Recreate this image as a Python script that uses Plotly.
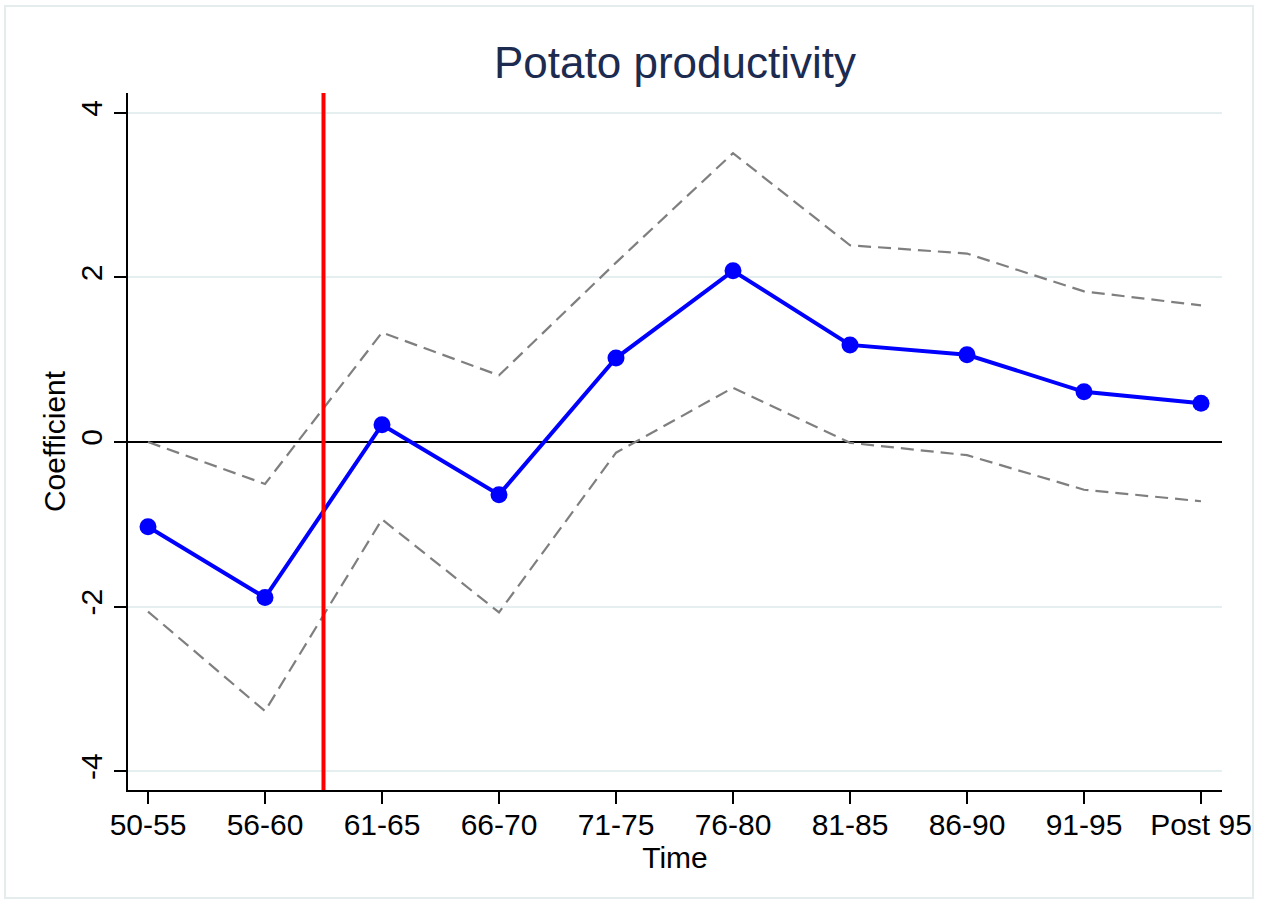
import plotly.graph_objects as go

# Event-study coefficients by period with 95% confidence bounds
periods = ["50-55", "56-60", "61-65", "66-70", "71-75",
           "76-80", "81-85", "86-90", "91-95", "Post 95"]
coef = [-1.03, -1.89, 0.21, -0.64, 1.02, 2.08, 1.18, 1.06, 0.61, 0.47]
ci_upper = [0.00, -0.51, 1.33, 0.81, 2.18, 3.51, 2.39, 2.29, 1.83, 1.66]
ci_lower = [-2.06, -3.27, -0.94, -2.07, -0.13, 0.66, -0.01, -0.16, -0.58, -0.72]
y_ticks = [-4, -2, 0, 2, 4]
treatment_at = 1.5  # between 56-60 and 61-65

x_pos = list(range(len(periods)))
FONT = "Liberation Sans, Arial, Helvetica, sans-serif"
GRID = "#e6eff0"

fig = go.Figure()

dash_style = dict(color="#7f7f7f", width=2.2, dash="13px,7px")
fig.add_trace(go.Scatter(x=x_pos, y=ci_upper, mode="lines", line=dash_style,
                         showlegend=False, hoverinfo="skip"))
fig.add_trace(go.Scatter(x=x_pos, y=ci_lower, mode="lines", line=dash_style,
                         showlegend=False, hoverinfo="skip"))
fig.add_trace(go.Scatter(x=x_pos, y=coef, mode="lines+markers",
                         line=dict(color="#0000ff", width=4),
                         marker=dict(color="#0000ff", size=17),
                         showlegend=False))

# Treatment marker line
fig.add_shape(type="line", xref="x", yref="y domain",
              x0=treatment_at, x1=treatment_at, y0=0, y1=1,
              line=dict(color="#ff0000", width=4), layer="above")

# Outer graph-region frame
fig.add_shape(type="rect", xref="paper", yref="paper",
              x0=-123 / 1094, x1=1125 / 1094,
              y0=(790 - 898) / 697, y1=(790 - 6) / 697,
              line=dict(color="#e4eced", width=2), fillcolor="rgba(0,0,0,0)",
              layer="below")

fig.update_layout(
    width=1275, height=911,
    margin=dict(l=128, r=53, t=93, b=121),
    paper_bgcolor="white", plot_bgcolor="white",
    font=dict(family=FONT, color="black", size=30),
    title=dict(text="Potato productivity", x=675 / 1275, xanchor="center",
               y=1 - 63 / 911, yanchor="middle",
               font=dict(family=FONT, size=44, color="#1c2b4f")),
    showlegend=False,
)

fig.update_xaxes(
    range=[-20 / 117, 1074 / 117],
    tickmode="array", tickvals=x_pos, ticktext=periods,
    showgrid=False, zeroline=False,
    showline=True, linecolor="black", linewidth=1.5,
    ticks="outside", ticklen=12, tickwidth=1.5, tickcolor="black",
    ticklabelstandoff=-5,
    tickfont=dict(size=30, color="black"),
    title=dict(text="Time", font=dict(size=30, color="black"), standoff=0),
)

fig.update_yaxes(
    range=[-348 / 82.3, 349 / 82.3],
    tickmode="array", tickvals=y_ticks, ticktext=[str(v) for v in y_ticks],
    tickangle=-90,
    showgrid=True, gridcolor=GRID, gridwidth=2,
    zeroline=True, zerolinecolor="black", zerolinewidth=1.5,
    showline=True, linecolor="black", linewidth=1.5,
    ticks="outside", ticklen=12, tickwidth=1.5, tickcolor="black",
    tickfont=dict(size=30, color="black"),
    title=dict(text="Coefficient", font=dict(size=30, color="black"), standoff=1),
)

fig.write_html("out.html")
